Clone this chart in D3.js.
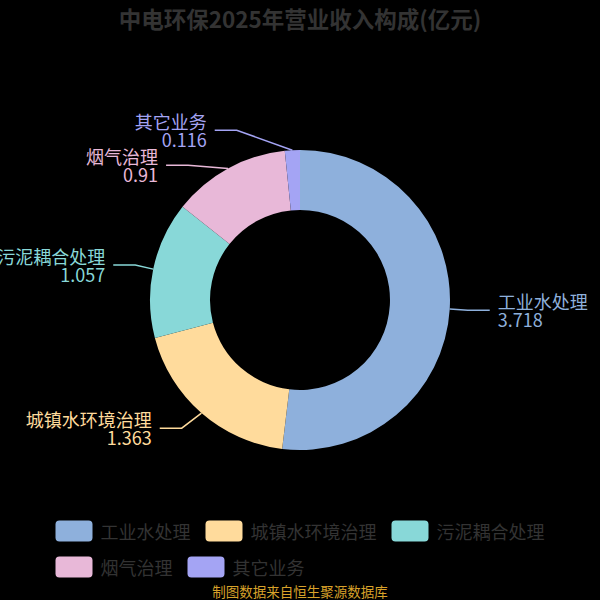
<!DOCTYPE html>
<html>
<head>
<meta charset="utf-8">
<script src="https://cdn.jsdelivr.net/npm/d3@7"></script>
<style>
  html, body { margin: 0; padding: 0; background: #000; }
  svg { display: block; }
  text { font-family: "Noto Sans CJK SC", "Noto Sans", sans-serif; }
</style>
</head>
<body>
<svg id="chart" width="600" height="600"></svg>
<script>
// ---- data ----
const titleText = "中电环保2025年营业收入构成(亿元)";
const categories = ["工业水处理", "城镇水环境治理", "污泥耦合处理", "烟气治理", "其它业务"];
const values = [3.718, 1.363, 1.057, 0.91, 0.116];
const valueLabels = ["3.718", "1.363", "1.057", "0.91", "0.116"];
const colors = ["#8eb0dc", "#ffdb9c", "#88d8d8", "#e8b8d8", "#a4a4f4"];
const footerText = "制图数据来自恒生聚源数据库";

// ---- layout params ----
const W = 600, H = 600;
const cx = 300, cy = 300;
const rOuter = 150, rInner = 90;
const len1 = 20, len2 = 22, labelL = 190, labelSpacing = 35, textGap = 8;
const labelFont = 18;

const svg = d3.select("#chart");
svg.append("rect").attr("width", W).attr("height", H).attr("fill", "#000");

// title
svg.append("text")
  .attr("x", W / 2).attr("y", 18)
  .attr("text-anchor", "middle").attr("dominant-baseline", "central")
  .attr("font-size", 22.5).attr("font-weight", "bold").attr("fill", "#333")
  .text(titleText);

const data = categories.map((c, i) => ({ name: c, value: values[i], label: valueLabels[i], color: colors[i] }));

const pie = d3.pie().value(d => d.value).sort(null).startAngle(0).endAngle(2 * Math.PI);
const arcs = pie(data);
const arcGen = d3.arc().innerRadius(rInner).outerRadius(rOuter);

const g = svg.append("g").attr("transform", `translate(${cx},${cy})`);
g.selectAll("path.slice").data(arcs).enter().append("path")
  .attr("class", "slice")
  .attr("d", arcGen)
  .attr("fill", d => d.data.color);

// label layout
const items = arcs.map(a => {
  const mid = (a.startAngle + a.endAngle) / 2;
  const s = Math.sin(mid), c = Math.cos(mid);
  return {
    a, mid,
    dir: s >= 0 ? 1 : -1,
    p1: [cx + rOuter * s, cy - rOuter * c],
    nat: [cx + (rOuter + len1) * s, cy - (rOuter + len1) * c],
    y: cy - (rOuter + len1) * c
  };
});
[1, -1].forEach(dir => {
  const side = items.filter(it => it.dir === dir).sort((p, q) => p.y - q.y);
  for (let i = 1; i < side.length; i++) {
    if (side[i].y - side[i - 1].y < labelSpacing) side[i].y = side[i - 1].y + labelSpacing;
  }
});
items.forEach(it => {
  const dy = Math.abs(it.y - cy);
  const dx = dy < labelL ? Math.sqrt(labelL * labelL - dy * dy) : Math.abs(it.nat[0] - cx) + len2;
  it.endX = cx + it.dir * dx;
  it.p2 = [it.endX - it.dir * len2, it.y];
});

const lab = svg.append("g");
items.forEach(it => {
  const col = it.a.data.color;
  lab.append("polyline")
    .attr("points", [it.p1, it.p2, [it.endX, it.y]].map(p => p.join(",")).join(" "))
    .attr("fill", "none").attr("stroke", col).attr("stroke-width", 1.5);
  const tx = it.endX + it.dir * textGap;
  const anchor = it.dir > 0 ? "start" : "end";
  const t = lab.append("text")
    .attr("text-anchor", anchor)
    .attr("font-size", labelFont).attr("fill", col);
  t.append("tspan")
    .attr("x", tx).attr("y", it.y - 9)
    .attr("dominant-baseline", "central")
    .text(it.a.data.name);
  t.append("tspan")
    .attr("x", tx).attr("y", it.y + 9)
    .attr("dominant-baseline", "central")
    .text(it.a.data.label);
});

// legend
const swW = 37, swH = 21, swGap = 8, itemGap = 15, rowH = 36, maxRowW = 560;
const legendG = svg.append("g");
const measure = svg.append("text").attr("font-size", 18).attr("visibility", "hidden");
const widths = data.map(d => { measure.text(d.name); return measure.node().getComputedTextLength(); });
measure.remove();
const rows = [[]];
let curW = 0;
data.forEach((d, i) => {
  const w = swW + swGap + widths[i];
  if (rows[rows.length - 1].length && curW + itemGap + w > maxRowW) { rows.push([]); curW = 0; }
  const row = rows[rows.length - 1];
  const x = row.length ? curW + itemGap : 0;
  row.push({ d, x, w });
  curW = x + w;
});
const boxW = d3.max(rows, r => r[r.length - 1].x + r[r.length - 1].w);
const legendLeft = (W - boxW) / 2;
const legendTop = 531;
rows.forEach((row, ri) => {
  const yc = legendTop + ri * rowH;
  row.forEach(it => {
    legendG.append("rect")
      .attr("x", legendLeft + it.x).attr("y", yc - swH / 2)
      .attr("width", swW).attr("height", swH).attr("rx", 4)
      .attr("fill", it.d.color);
    legendG.append("text")
      .attr("x", legendLeft + it.x + swW + swGap).attr("y", yc)
      .attr("dominant-baseline", "central")
      .attr("font-size", 18).attr("fill", "#333")
      .text(it.d.name);
  });
});

// footer
svg.append("text")
  .attr("x", W / 2).attr("y", 591)
  .attr("text-anchor", "middle").attr("dominant-baseline", "central")
  .attr("font-size", 13.5).attr("fill", "#d8a22a")
  .text(footerText);
</script>
</body>
</html>
